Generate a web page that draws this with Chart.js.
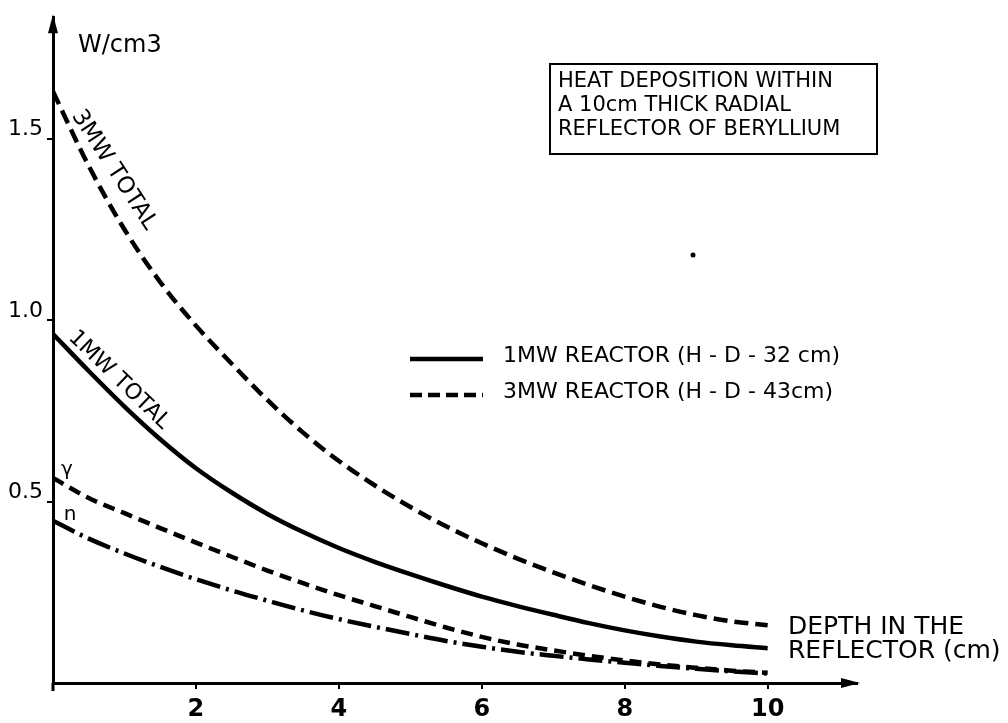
<!DOCTYPE html>
<html><head><meta charset="utf-8">
<script src="https://cdn.jsdelivr.net/npm/chart.js@4/dist/chart.umd.min.js"></script>
<style>html,body{margin:0;padding:0;background:#fff}#wrap{width:1008px;height:723px;position:relative}</style>
</head><body><div id="wrap"><canvas id="c" width="1008" height="723"></canvas></div>
<script>
// ---- data ----
const depth      = [0,0.5,1,1.5,2,2.5,3,3.5,4,4.5,5,5.5,6,6.5,7,7.5,8,8.5,9,9.5,10];
const total3MW   = [1.63,1.425,1.25,1.105,0.985,0.88,0.78,0.69,0.612,0.545,0.485,0.432,0.385,0.343,0.305,0.27,0.238,0.21,0.187,0.17,0.159];
const total1MW   = [0.962,0.86,0.762,0.672,0.592,0.525,0.466,0.416,0.372,0.334,0.3,0.268,0.238,0.212,0.188,0.165,0.145,0.128,0.114,0.104,0.096];
const gamma3MW   = [0.565,0.51,0.468,0.427,0.387,0.348,0.31,0.275,0.242,0.212,0.182,0.153,0.127,0.106,0.09,0.075,0.062,0.051,0.042,0.034,0.028];
const neutron3MW = [0.447,0.398,0.357,0.32,0.286,0.255,0.227,0.2,0.176,0.155,0.135,0.116,0.1,0.086,0.075,0.065,0.056,0.047,0.039,0.032,0.026];
const xTickValues = [2,4,6,8,10];
const xTickLabels = ['2','4','6','8','10'];
const yTickValues = [0.5,1.0,1.5];
const yTickLabels = ['0.5','1.0','1.5'];
const yUnitLabel  = 'W/cm3';
const xAxisTitle  = ['DEPTH IN THE','REFLECTOR (cm)'];
const boxTitle    = ['HEAT DEPOSITION WITHIN','A 10cm THICK RADIAL','REFLECTOR OF BERYLLIUM'];
const legendLabels = ['1MW REACTOR (H - D - 32 cm)','3MW REACTOR (H - D - 43cm)'];
const curveLabels  = ['3MW TOTAL','1MW TOTAL','\u03b3','n'];

const FONT = 'DejaVu Sans';
const pts = arr => depth.map((x,i)=>({x:x,y:arr[i]}));
const base = {borderColor:'#000',backgroundColor:'#000',borderWidth:4.5,pointRadius:0,fill:false,
  cubicInterpolationMode:'monotone',borderCapStyle:'butt'};

const overlay = {
  id:'overlay',
  afterDraw(chart){
    const ctx = chart.ctx, a = chart.chartArea;
    ctx.save();
    ctx.fillStyle = '#000'; ctx.strokeStyle = '#000';
    // axis extension below origin and arrows
    ctx.lineWidth = 3;
    ctx.beginPath(); ctx.moveTo(a.left, a.bottom); ctx.lineTo(a.left, a.bottom+8); ctx.stroke();
    ctx.beginPath(); ctx.moveTo(a.left, a.top-3); ctx.lineTo(a.left-5, a.top+16); ctx.lineTo(a.left+5, a.top+16); ctx.closePath(); ctx.fill();
    ctx.beginPath(); ctx.moveTo(a.right+3, a.bottom); ctx.lineTo(a.right-16, a.bottom-5); ctx.lineTo(a.right-16, a.bottom+5); ctx.closePath(); ctx.fill();
    // unit label
    ctx.font = '24px "'+FONT+'"'; ctx.textBaseline = 'middle'; ctx.textAlign = 'left';
    ctx.fillText(yUnitLabel, 78, 46);
    // box
    ctx.lineWidth = 2; ctx.strokeRect(550, 64, 327, 90);
    ctx.font = '21px "'+FONT+'"';
    boxTitle.forEach((t,i)=> ctx.fillText(t, 558, 82 + i*24));
    // stray mark in the scan
    ctx.beginPath(); ctx.arc(693,255,2.5,0,Math.PI*2); ctx.fill();
    // legend
    ctx.lineWidth = 4.5;
    ctx.beginPath(); ctx.moveTo(410,359); ctx.lineTo(483,359); ctx.stroke();
    ctx.setLineDash([12,6]); ctx.beginPath(); ctx.moveTo(410,395); ctx.lineTo(483,395); ctx.stroke(); ctx.setLineDash([]);
    ctx.font = '22px "'+FONT+'"';
    ctx.fillText(legendLabels[0], 503, 356);
    ctx.fillText(legendLabels[1], 503, 392);
    // x axis title
    ctx.font = '25px "'+FONT+'"';
    ctx.fillText(xAxisTitle[0], 788, 627);
    ctx.fillText(xAxisTitle[1], 788, 651);
    // curve labels
    const rot = (txt, x, y, deg, size) => {
      ctx.save(); ctx.translate(x,y); ctx.rotate(deg*Math.PI/180);
      ctx.font = size+'px "'+FONT+'"'; ctx.textAlign='center'; ctx.textBaseline='middle';
      ctx.fillText(txt,0,0); ctx.restore();
    };
    rot(curveLabels[0], 114, 170, 57, 23);
    rot(curveLabels[1], 119, 380, 44, 22);
    ctx.font = '20px "'+FONT+'"'; ctx.textAlign='center';
    ctx.fillText(curveLabels[2], 67, 470);
    ctx.fillText(curveLabels[3], 70, 515);
    ctx.restore();
  }
};

new Chart(document.getElementById('c'), {
  type:'line',
  data:{datasets:[
    Object.assign({label:curveLabels[0], data:pts(total3MW), borderDash:[14,7]}, base),
    Object.assign({label:curveLabels[1], data:pts(total1MW)}, base),
    Object.assign({label:curveLabels[2], data:pts(gamma3MW), borderDash:[12,7]}, base),
    Object.assign({label:curveLabels[3], data:pts(neutron3MW), borderDash:[24,6,3,6]}, base)
  ]},
  options:{
    responsive:false, animation:false, devicePixelRatio:1,
    layout:{padding:{left:0,top:13,right:151,bottom:0}},
    plugins:{legend:{display:false},tooltip:{enabled:false}},
    scales:{
      x:{type:'linear',min:0,max:11.25,
        afterBuildTicks:s=>{s.ticks = xTickValues.map(v=>({value:v}));},
        afterFit:s=>{s.height=40;},
        ticks:{callback:(v,i)=>xTickLabels[i],font:{family:FONT,size:24,weight:'bold'},color:'#000',padding:6,maxRotation:0,autoSkip:false},
        grid:{display:true,drawOnChartArea:false,tickLength:6,color:'#000',lineWidth:2},
        border:{display:true,color:'#000',width:3}},
      y:{type:'linear',min:0,max:1.835,
        afterBuildTicks:s=>{s.ticks = yTickValues.map(v=>({value:v}));},
        afterFit:s=>{s.width=53;},
        ticks:{callback:(v,i)=>yTickLabels[i],font:{family:FONT,size:22},color:'#000',padding:4,labelOffset:-9,autoSkip:false},
        grid:{display:true,drawOnChartArea:false,tickLength:6,color:'#000',lineWidth:2},
        border:{display:true,color:'#000',width:3}}
    }
  },
  plugins:[overlay]
});
</script></body></html>
